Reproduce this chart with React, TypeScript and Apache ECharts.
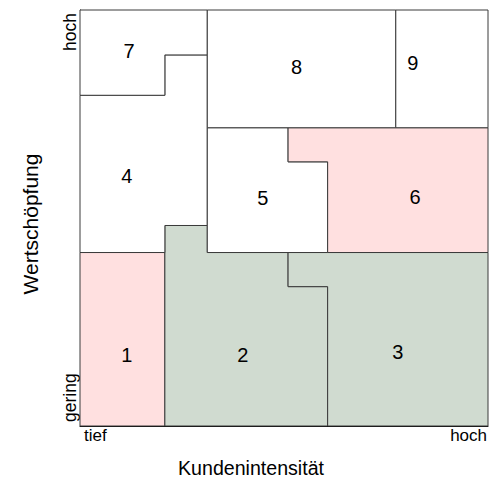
import React, { useEffect, useRef } from "react";
import * as echarts from "echarts";

// boundaries (percent of axis range)
const X = [0, 20.8, 31.2, 51.0, 60.7, 77.4, 100];
const Y = [0, 33.5, 41.7, 48.2, 63.5, 71.7, 79.5, 89.2, 100];

const regionNames = ["1", "2", "3", "4", "5", "6", "7", "8", "9"];
const regionColors = ["#FFE0E0", "#D0DBD0", "#D0DBD0", "#FFFFFF", "#FFFFFF", "#FFE0E0", "#FFFFFF", "#FFFFFF", "#FFFFFF"];
// polygons as [xIndex, yIndex] pairs into X and Y
const regionPolys: number[][][] = [
  [[0, 0], [1, 0], [1, 2], [0, 2]],
  [[1, 0], [4, 0], [4, 1], [3, 1], [3, 2], [2, 2], [2, 3], [1, 3]],
  [[4, 0], [6, 0], [6, 2], [3, 2], [3, 1], [4, 1]],
  [[0, 2], [1, 2], [1, 3], [2, 3], [2, 7], [1, 7], [1, 6], [0, 6]],
  [[2, 2], [4, 2], [4, 4], [3, 4], [3, 5], [2, 5]],
  [[3, 5], [6, 5], [6, 2], [4, 2], [4, 4], [3, 4]],
  [[0, 6], [1, 6], [1, 7], [2, 7], [2, 8], [0, 8]],
  [[2, 5], [5, 5], [5, 8], [2, 8]],
  [[5, 5], [6, 5], [6, 8], [5, 8]],
];
const labelX = [11.5, 39.9, 77.9, 11.5, 44.8, 82.1, 12.0, 53.1, 81.6];
const labelY = [17.1, 17.1, 17.8, 60.2, 54.7, 55.1, 90.1, 86.2, 87.2];

const xTickLabels = ["tief", "hoch"];
const yTickLabels = ["gering", "hoch"];
const xAxisName = "Kundenintensität";
const yAxisName = "Wertschöpfung";

export default function App() {
  const ref = useRef<HTMLDivElement>(null);
  useEffect(() => {
    if (!ref.current) return;
    const chart = echarts.init(ref.current, undefined, { renderer: "svg" });
    const font = "Liberation Sans, Arial, sans-serif";
    chart.setOption({
      animation: false,
      grid: { left: 80, top: 10, right: 1, bottom: 56 },
      xAxis: {
        type: "value",
        min: 0,
        max: 100,
        axisLine: { show: true, lineStyle: { color: "#000", width: 1 } },
        axisTick: { show: false },
        axisLabel: { show: false },
        splitLine: { show: false },
      },
      yAxis: {
        type: "value",
        min: 0,
        max: 100,
        axisLine: { show: true, lineStyle: { color: "#000", width: 1 } },
        axisTick: { show: false },
        axisLabel: { show: false },
        splitLine: { show: false },
      },
      graphic: [
        { type: "text", x: 251, y: 468, style: { text: xAxisName, fontSize: 19.6, fill: "#000", fontFamily: font, align: "center", verticalAlign: "middle" } },
        { type: "text", x: 30, y: 224, rotation: Math.PI / 2, style: { text: yAxisName, fontSize: 21, fill: "#000", fontFamily: font, align: "center", verticalAlign: "middle" } },
        { type: "text", left: 84, top: 427, style: { text: xTickLabels[0], fontSize: 17, fill: "#000", fontFamily: font } },
        { type: "text", right: 2, top: 427, style: { text: xTickLabels[1], fontSize: 17, fill: "#000", fontFamily: font } },
        { type: "text", x: 61, y: 422, rotation: Math.PI / 2, style: { text: yTickLabels[0], fontSize: 17.5, fill: "#000", fontFamily: font, align: "left", verticalAlign: "top" } },
        { type: "text", x: 61, y: 51, rotation: Math.PI / 2, style: { text: yTickLabels[1], fontSize: 17.5, fill: "#000", fontFamily: font, align: "left", verticalAlign: "top" } },
      ],
      series: [
        {
          type: "custom",
          coordinateSystem: "cartesian2d",
          data: regionNames.map((_, i) => [labelX[i], labelY[i], i]),
          renderItem: (params: any, api: any) => {
            const i = params.dataIndex;
            const pts = regionPolys[i].map(([xi, yi]) => api.coord([X[xi], Y[yi]]));
            const c = api.coord([labelX[i], labelY[i]]);
            return {
              type: "group",
              children: [
                {
                  type: "polygon",
                  shape: { points: pts },
                  style: { fill: regionColors[i], stroke: "#3a3a3a", lineWidth: 1 },
                },
                {
                  type: "text",
                  x: c[0],
                  y: c[1],
                  style: {
                    text: regionNames[i],
                    fontSize: 20,
                    fill: "#000",
                    fontFamily: font,
                    align: "center",
                    verticalAlign: "middle",
                  },
                },
              ],
            };
          },
        },
      ],
    });
    return () => chart.dispose();
  }, []);
  return <div ref={ref} style={{ width: 489, height: 482, position: "absolute", left: 0, top: 0 }} />;
}
